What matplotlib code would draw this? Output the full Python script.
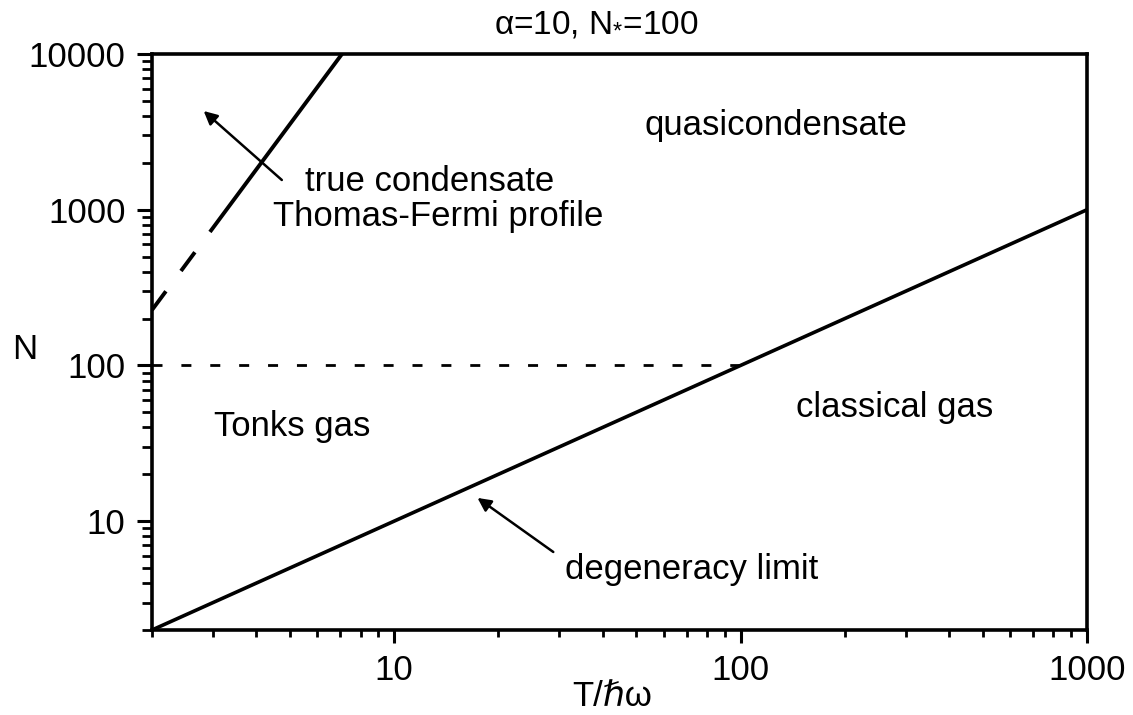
import matplotlib
matplotlib.use("Agg")
import matplotlib.pyplot as plt
from matplotlib.ticker import LogLocator, NullFormatter, FixedLocator, FixedFormatter

plt.rcParams['font.family'] = ['Liberation Sans', 'DejaVu Sans']
plt.rcParams['mathtext.fontset'] = 'custom'
plt.rcParams['mathtext.rm'] = 'Liberation Sans'
plt.rcParams['mathtext.it'] = 'Liberation Sans'

# Degeneracy limit N = T
deg_T = [2, 1000]
deg_N = [2, 1000]

# True-condensate (Thomas-Fermi) boundary, dashed below and solid above
tc_dash_T = [2.0, 2.94]
tc_dash_N = [227, 720]
tc_solid_T = [2.94, 7.07]
tc_solid_N = [720, 10000]

# Tonks gas boundary N = N*
tonks_T = [2, 100]
tonks_N = [100, 100]

x_ticks = [10, 100, 1000]
x_ticklabels = ['10', '100', '1000']
y_ticks = [10, 100, 1000, 10000]
y_ticklabels = ['10', '100', '1000', '10000']

W, H = 1133, 715
fig = plt.figure(figsize=(W / 100, H / 100), dpi=100)
ax = fig.add_axes([152 / W, 1 - 630 / H, (1087 - 152) / W, (630 - 54) / H])
ax.set_xscale('log')
ax.set_yscale('log')
ax.set_xlim(2, 1000)
ax.set_ylim(2, 10000)

ax.plot(deg_T, deg_N, color='black', lw=2.6, solid_capstyle='butt')
ax.plot(tc_solid_T, tc_solid_N, color='black', lw=2.8, solid_capstyle='butt')
ax.plot(tc_dash_T, tc_dash_N, color='black', lw=2.8, dashes=(6.0, 6.5),
        dash_capstyle='butt')
ax.plot(tonks_T, tonks_N, color='black', lw=2.0, dashes=(3.6, 6.8),
        dash_capstyle='butt')

# spines and ticks
for side in ['left', 'bottom', 'top', 'right']:
    ax.spines[side].set_linewidth(2.6)
ax.xaxis.set_major_locator(FixedLocator(x_ticks))
ax.xaxis.set_major_formatter(FixedFormatter(x_ticklabels))
ax.yaxis.set_major_locator(FixedLocator(y_ticks))
ax.yaxis.set_major_formatter(FixedFormatter(y_ticklabels))
ax.xaxis.set_minor_locator(LogLocator(base=10, subs=range(2, 10)))
ax.yaxis.set_minor_locator(LogLocator(base=10, subs=range(2, 10)))
ax.xaxis.set_minor_formatter(NullFormatter())
ax.yaxis.set_minor_formatter(NullFormatter())
ax.tick_params(axis='x', which='major', direction='out', length=9, width=2.2,
               pad=8, labelsize=25, top=False)
ax.tick_params(axis='x', which='minor', direction='out', length=5, width=2.0,
               top=False)
ax.tick_params(axis='y', which='major', direction='out', length=11, width=2.2,
               pad=8, labelsize=25, right=False)
ax.tick_params(axis='y', which='minor', direction='out', length=7, width=2.0,
               right=False)


def ftext(px, py, s, **kw):
    fig.text(px / W, 1 - py / H, s, **kw)


fs = 25
ftext(596, 33, r'α=10, N$_{*}$=100', fontsize=24, ha='center', va='baseline')
ftext(645, 135, 'quasicondensate', fontsize=fs, ha='left', va='baseline')
ftext(305, 191, 'true condensate', fontsize=fs, ha='left', va='baseline')
ftext(273, 226, 'Thomas-Fermi profile', fontsize=fs, ha='left', va='baseline')
ftext(214, 436, 'Tonks gas', fontsize=fs, ha='left', va='baseline')
ftext(796, 417, 'classical gas', fontsize=fs, ha='left', va='baseline')
ftext(565, 579, 'degeneracy limit', fontsize=fs, ha='left', va='baseline')
ftext(12, 359, 'N', fontsize=25, ha='left', va='baseline')
ftext(612, 706, 'T/ℏω', fontsize=25, ha='center', va='baseline')

arrow = dict(arrowstyle='-|>', lw=1.8, color='black', mutation_scale=20,
             shrinkA=0, shrinkB=0)
ax.annotate('', xy=(2.82, 4305), xytext=(4.74, 1552), arrowprops=arrow)
ax.annotate('', xy=(17.4, 14.1), xytext=(28.8, 6.34), arrowprops=arrow)

fig.savefig('out.png', dpi=100)
